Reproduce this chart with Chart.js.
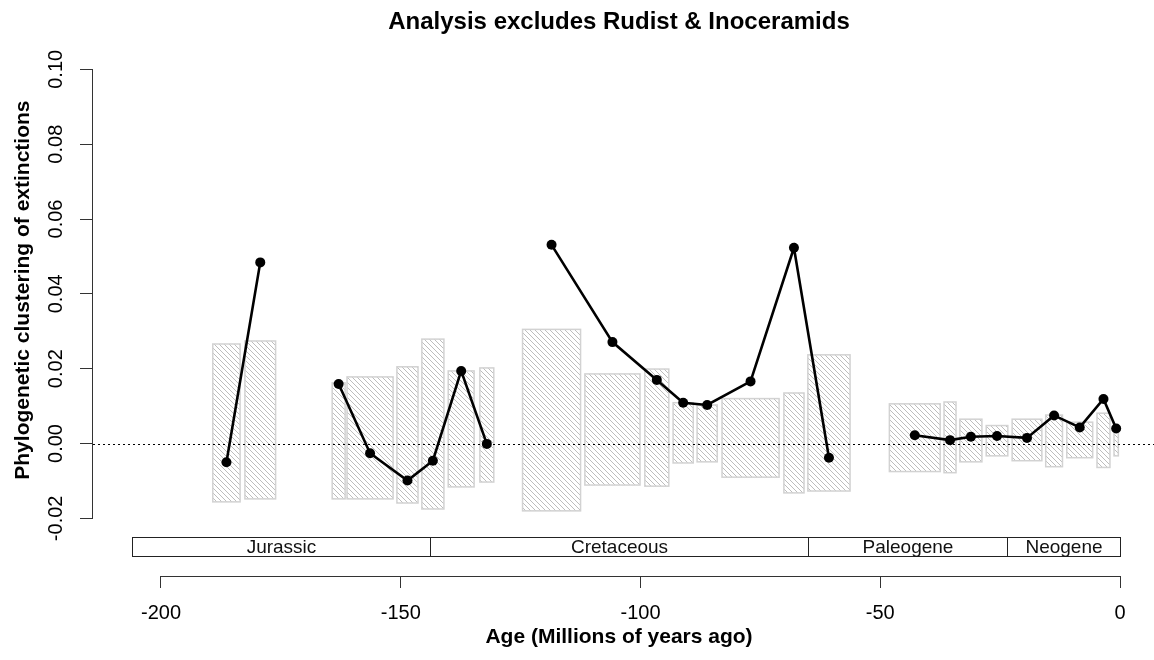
<!DOCTYPE html>
<html>
<head>
<meta charset="utf-8">
<title>Analysis excludes Rudist &amp; Inoceramids</title>
<script src="https://cdn.jsdelivr.net/npm/chart.js@4.4.1/dist/chart.umd.min.js"></script>
<style>
    html, body { margin: 0; padding: 0; background: #fff; }
    #chart { display: block; }
</style>
</head>
<body>
<canvas id="chart" width="1154" height="660"></canvas>
<script>
// Stage boundaries in Ma (negative = before present)
const stageStart = [-189.2, -182.5, -164.3, -161.2, -150.8, -145.6, -140.1, -133.5,
    -124.6, -111.6, -99.1, -93.2, -88.2, -83.0, -70.1, -65.1,
    -48.1, -36.7, -33.4, -27.9, -22.5, -15.5, -11.1, -4.8, -1.25];
const stageEnd = [-183.5, -176.1, -161.6, -151.6, -146.4, -141.0, -134.7, -130.6,
    -112.5, -100.1, -94.1, -89.0, -84.0, -71.1, -65.9, -56.3,
    -37.5, -34.2, -28.8, -23.4, -16.3, -12.0, -5.7, -2.1, -0.35];

// Null range of clustering for each stage (hatched boxes)
const nullLow = [-0.0156, -0.0148, -0.0148, -0.0148, -0.0159, -0.0175, -0.0116, -0.0103,
    -0.0180, -0.0111, -0.0114, -0.0052, -0.0049, -0.0090, -0.0132, -0.0127,
    -0.0075, -0.0078, -0.0049, -0.0033, -0.0046, -0.0062, -0.0038, -0.0064, -0.0033];
const nullHigh = [0.0266, 0.0274, 0.0162, 0.0178, 0.0205, 0.0279, 0.0194, 0.0202,
    0.0305, 0.0186, 0.0199, 0.0109, 0.0103, 0.0120, 0.0135, 0.0237,
    0.0106, 0.0111, 0.0065, 0.0048, 0.0065, 0.0076, 0.0057, 0.0081, 0.0036];

// Observed phylogenetic clustering per stage
const clustering = [-0.0050, 0.0484, 0.0159, -0.0026, -0.0099, -0.0046, 0.0194, -0.0001,
    0.0531, 0.0271, 0.0170, 0.0109, 0.0103, 0.0166, 0.0523, -0.0038,
    0.0022, 0.0009, 0.0018, 0.0020, 0.0015, 0.0075, 0.0043, 0.0119, 0.0040];

// Stage indices where the line starts again after a missing stage
const lineBreaks = [2, 8, 16];

const periodNames = ['Jurassic', 'Cretaceous', 'Paleogene', 'Neogene'];
const periodStart = [-206, -144, -65.1, -23.6];
const periodEnd = [-144, -65.1, -23.6, 0];

const xTicks = [-200, -150, -100, -50, 0];
const yTicks = [-0.02, 0, 0.02, 0.04, 0.06, 0.08, 0.10];

const FONT = '"Liberation Sans", Arial, Helvetica, sans-serif';

// ==================== HELPERS ====================

function buildLinePoints() {
    const points = [];
    clustering.forEach((v, i) => {
        if (lineBreaks.includes(i)) points.push({ x: stageStart[i], y: null });
        points.push({ x: (stageStart[i] + stageEnd[i]) / 2, y: v });
    });
    return points;
}

function makeHatch() {
    const size = 5;
    const c = document.createElement('canvas');
    c.width = size;
    c.height = size;
    const g = c.getContext('2d');
    g.strokeStyle = '#bdbdbd';
    g.lineWidth = 1;
    g.beginPath();
    g.moveTo(-1, -1); g.lineTo(size + 1, size + 1);
    g.moveTo(-1, size - 1); g.lineTo(1, size + 1);
    g.moveTo(size - 1, -1); g.lineTo(size + 1, 1);
    g.stroke();
    return c;
}

// Boxes, zero line, axis lines and the period strip
const decor = {
    id: 'decor',
    beforeDraw(chart) {
        const ctx = chart.ctx;
        ctx.save();
        ctx.fillStyle = '#fff';
        ctx.fillRect(0, 0, chart.width, chart.height);
        ctx.restore();
    },
    beforeDatasetsDraw(chart) {
        const { ctx, chartArea, scales: { x, y } } = chart;
        const pattern = ctx.createPattern(makeHatch(), 'repeat');
        ctx.save();
        stageStart.forEach((s, i) => {
            const x0 = x.getPixelForValue(s);
            const x1 = x.getPixelForValue(stageEnd[i]);
            const y0 = y.getPixelForValue(nullHigh[i]);
            const y1 = y.getPixelForValue(nullLow[i]);
            ctx.fillStyle = pattern;
            ctx.fillRect(x0, y0, x1 - x0, y1 - y0);
            ctx.strokeStyle = '#d2d2d2';
            ctx.lineWidth = 1.5;
            ctx.strokeRect(x0, y0, x1 - x0, y1 - y0);
        });

        // dotted zero line
        const yz = Math.round(y.getPixelForValue(0)) + 0.5;
        ctx.strokeStyle = '#000';
        ctx.lineWidth = 1;
        ctx.setLineDash([2, 3]);
        ctx.beginPath();
        ctx.moveTo(chartArea.left, yz);
        ctx.lineTo(chart.width, yz);
        ctx.stroke();
        ctx.restore();
    },
    afterDraw(chart) {
        const { ctx, chartArea, scales: { x, y } } = chart;
        ctx.save();
        ctx.strokeStyle = '#333';
        ctx.lineWidth = 1;

        // y axis line only over the tick range
        const ax = Math.round(chartArea.left) - 0.5;
        ctx.beginPath();
        ctx.moveTo(ax, y.getPixelForValue(yTicks[yTicks.length - 1]));
        ctx.lineTo(ax, y.getPixelForValue(yTicks[0]));
        ctx.stroke();

        // x axis line only over the tick range
        const ay = Math.round(chartArea.bottom) + 0.5;
        ctx.beginPath();
        ctx.moveTo(x.getPixelForValue(xTicks[0]), ay);
        ctx.lineTo(x.getPixelForValue(xTicks[xTicks.length - 1]), ay);
        ctx.stroke();

        // geological periods strip
        const top = Math.round(y.getPixelForValue(-0.0251)) + 0.5;
        const bottom = Math.round(y.getPixelForValue(-0.0301)) + 0.5;
        ctx.strokeStyle = '#222';
        ctx.fillStyle = '#111';
        ctx.font = '19px ' + FONT;
        ctx.textAlign = 'center';
        ctx.textBaseline = 'middle';
        periodNames.forEach((name, i) => {
            const x0 = Math.round(x.getPixelForValue(periodStart[i])) + 0.5;
            const x1 = Math.round(x.getPixelForValue(periodEnd[i])) + 0.5;
            ctx.strokeRect(x0, top, x1 - x0, bottom - top);
            ctx.fillText(name, (x0 + x1) / 2, (top + bottom) / 2 + 1);
        });

        // y axis title, centred on the plotting region
        ctx.fillStyle = '#000';
        ctx.font = 'bold 21px ' + FONT;
        ctx.translate(23, y.getPixelForValue(0.041));
        ctx.rotate(-Math.PI / 2);
        ctx.fillText('Phylogenetic clustering of extinctions', 0, 0);
        ctx.restore();
    }
};

// ==================== CHART ====================

document.addEventListener('DOMContentLoaded', () => {
    const ctx = document.getElementById('chart').getContext('2d');
    new Chart(ctx, {
        type: 'line',
        data: {
            datasets: [{
                data: buildLinePoints(),
                borderColor: '#000',
                borderWidth: 2.6,
                pointRadius: 5,
                pointHoverRadius: 5,
                pointBackgroundColor: '#000',
                pointBorderWidth: 0,
                spanGaps: false,
                tension: 0,
                clip: false
            }]
        },
        options: {
            responsive: false,
            animation: false,
            devicePixelRatio: 1,
            events: [],
            layout: { padding: { left: 0, right: 9, top: 0, bottom: 0 } },
            plugins: {
                legend: { display: false },
                tooltip: { enabled: false },
                title: {
                    display: true,
                    fullSize: false,
                    text: 'Analysis excludes Rudist & Inoceramids',
                    color: '#000',
                    font: { family: FONT, size: 24, weight: 'bold', lineHeight: 1.2 },
                    padding: { top: 8, bottom: 14.2 }
                }
            },
            scales: {
                x: {
                    type: 'linear',
                    min: -214.18,
                    max: 5.21,
                    afterBuildTicks: s => { s.ticks = xTicks.map(v => ({ value: v })); },
                    afterFit: s => { s.height = 84; },
                    border: { display: false },
                    grid: { drawOnChartArea: false, drawTicks: true, tickLength: 12, color: '#333' },
                    ticks: {
                        autoSkip: false,
                        maxRotation: 0,
                        padding: 13,
                        color: '#000',
                        font: { family: FONT, size: 20 },
                        callback: v => String(v)
                    },
                    title: {
                        display: true,
                        text: 'Age (Millions of years ago)',
                        color: '#000',
                        font: { family: FONT, size: 21, weight: 'bold' },
                        padding: { top: 0, bottom: 10 }
                    }
                },
                y: {
                    type: 'linear',
                    min: -0.03541,
                    max: 0.10490,
                    afterBuildTicks: s => { s.ticks = yTicks.map(v => ({ value: v })); },
                    afterFit: s => { s.width = 93; },
                    border: { display: false },
                    grid: { drawOnChartArea: false, drawTicks: true, tickLength: 13, color: '#333' },
                    ticks: {
                        minRotation: 90,
                        maxRotation: 90,
                        crossAlign: 'center',
                        padding: 1,
                        color: '#000',
                        font: { family: FONT, size: 20 },
                        callback: v => v.toFixed(2)
                    }
                }
            }
        },
        plugins: [decor]
    });
});
</script>
</body>
</html>
